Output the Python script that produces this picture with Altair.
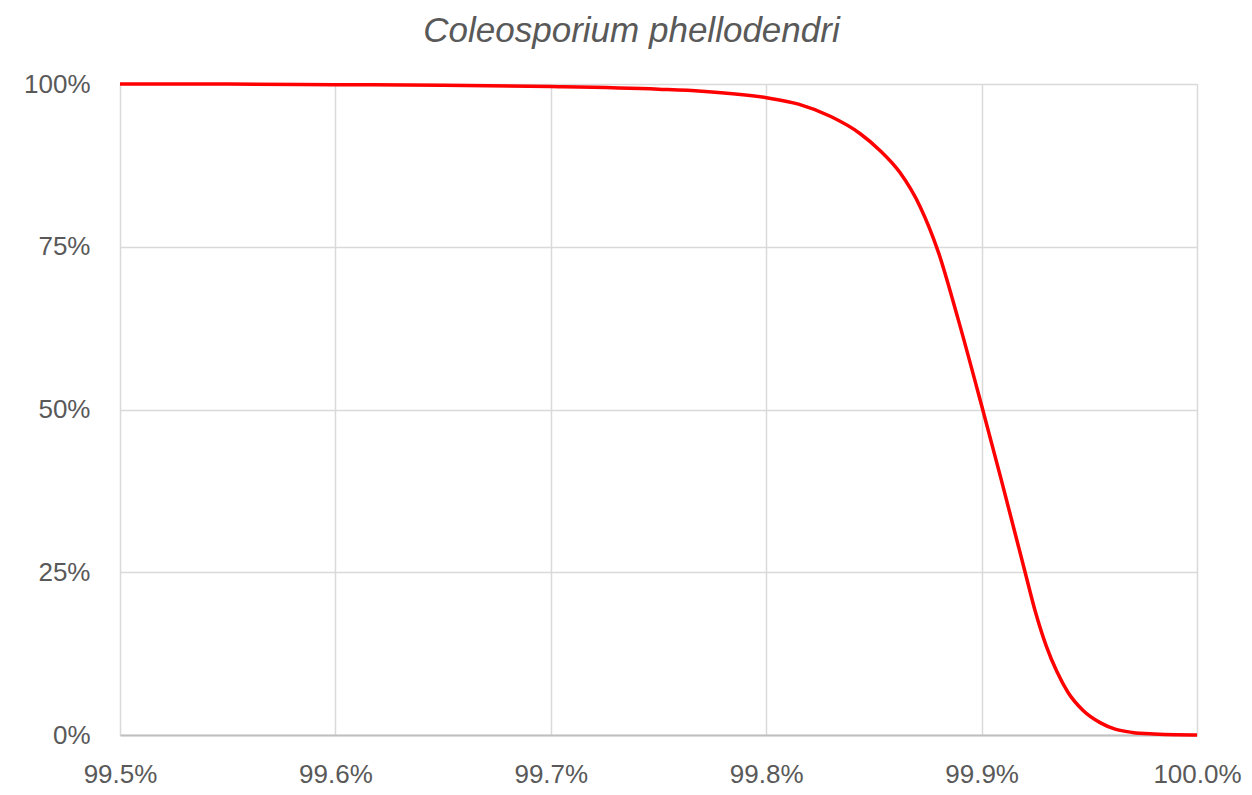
import altair as alt
import pandas as pd

x_vals = [99.50, 99.55, 99.60, 99.65, 99.70, 99.75, 99.77, 99.80, 99.815, 99.83,
          99.8435, 99.8528, 99.8621, 99.8714, 99.8798, 99.889, 99.9005, 99.9093,
          99.9202, 99.925, 99.930, 99.935, 99.940, 99.947, 99.955, 99.962, 99.970,
          99.98, 99.99, 100.0]
y_vals = [100.0, 100.0, 99.9, 99.8, 99.6, 99.2, 98.9, 97.9, 96.9, 95.0,
          92.4, 89.8, 86.4, 81.2, 74.3, 64.0, 50.0, 39.0,
          25.0, 18.9, 13.7, 9.7, 6.6, 3.8, 1.9, 0.9, 0.4,
          0.15, 0.03, 0.0]
x_ticks = [99.5, 99.6, 99.7, 99.8, 99.9, 100.0]
y_ticks = [0, 25, 50, 75, 100]

df = pd.DataFrame({"x": x_vals, "y": y_vals})

FONT = "Liberation Sans"
GREY = "#595959"

chart = alt.Chart(df).mark_line(
    color="#ff0000", strokeWidth=3.5, interpolate="monotone"
).encode(
    x=alt.X("x:Q", scale=alt.Scale(domain=[99.5, 100.0], nice=False, zero=False),
            axis=alt.Axis(values=x_ticks, title=None, labelExpr="format(datum.value, '.1f') + '%'",
                          grid=True, gridColor="#d9d9d9", gridWidth=1.5,
                          domain=True, domainColor="#bfbfbf", domainWidth=2,
                          ticks=False, labelPadding=26, labelFontSize=26,
                          labelFlush=False,
                          labelColor=GREY, labelFont=FONT)),
    y=alt.Y("y:Q", scale=alt.Scale(domain=[0, 100], nice=False),
            axis=alt.Axis(values=y_ticks, title=None, labelExpr="datum.value + '%'",
                          grid=True, gridColor="#d9d9d9", gridWidth=1.5,
                          domain=False, ticks=False, labelPadding=30,
                          labelFontSize=26, labelColor=GREY, labelFont=FONT)),
).properties(
    width=1077, height=651,
    title=alt.TitleParams("Coleosporium phellodendri", fontSize=35, font=FONT,
                          fontStyle="italic", fontWeight="normal", color=GREY,
                          anchor="middle", dx=-27, offset=22),
    autosize=alt.AutoSizeParams(type="none"),
    padding={"left": 112, "top": 76, "right": 47, "bottom": 52},
).configure_view(stroke=None)

chart.save("out.html", embed_options={"renderer": "svg", "actions": False})
